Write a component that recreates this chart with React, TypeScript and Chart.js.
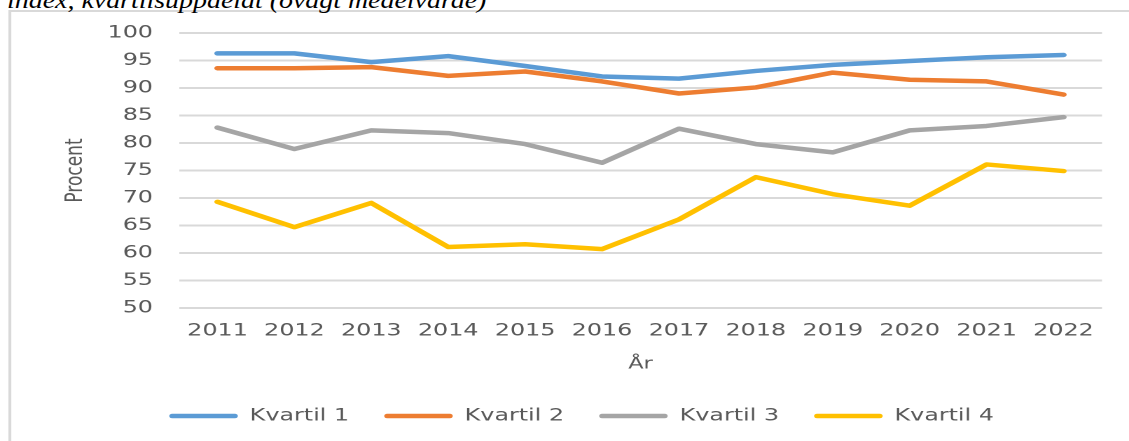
import React, { useEffect, useRef } from "react";
import { Chart, registerables } from "chart.js";

Chart.register(...registerables);

// ---- data ----
const years = ["2011", "2012", "2013", "2014", "2015", "2016", "2017", "2018", "2019", "2020", "2021", "2022"];
const kvartil1 = [96.3, 96.3, 94.7, 95.8, 94.0, 92.1, 91.7, 93.1, 94.2, 94.9, 95.6, 96.0];
const kvartil2 = [93.6, 93.6, 93.8, 92.2, 93.0, 91.2, 89.0, 90.1, 92.8, 91.5, 91.2, 88.8];
const kvartil3 = [82.8, 78.9, 82.3, 81.8, 79.8, 76.4, 82.6, 79.8, 78.3, 82.3, 83.1, 84.7];
const kvartil4 = [69.3, 64.7, 69.1, 61.1, 61.6, 60.7, 66.1, 73.8, 70.7, 68.6, 76.1, 74.9];
const seriesNames = ["Kvartil 1", "Kvartil 2", "Kvartil 3", "Kvartil 4"];
const seriesValues = [kvartil1, kvartil2, kvartil3, kvartil4];
const seriesColors = ["#5B9BD5", "#ED7D31", "#A5A5A5", "#FFC000"];
const yMin = 50;
const yMax = 100;
const yStep = 5;
const captionText = "index, kvartilsuppdelat (övägt medelvärde)";
const yAxisTitle = "Procent";
const xAxisTitle = "År";

// ---- layout (internal units; the whole figure is stretched horizontally) ----
const W = 806;
const H = 441;
const STRETCH = 1129 / W;
const FONT = "'DejaVu Sans', sans-serif";
const TEXT = "#595959";

export default function App() {
  const ref = useRef<HTMLCanvasElement>(null);

  useEffect(() => {
    const canvas = ref.current;
    if (!canvas) return;
    const n = seriesNames.length;
    const datasets = seriesValues.map((values, i) => ({
      label: seriesNames[i],
      data: values,
      borderColor: seriesColors[i],
      backgroundColor: seriesColors[i],
      borderWidth: 4.5,
      pointRadius: 0,
      pointHoverRadius: 0,
      borderCapStyle: "round" as const,
      borderJoinStyle: "round" as const,
      tension: 0,
      fill: false,
      order: n - i,
    }));

    const chart = new Chart(canvas, {
      type: "line",
      data: { labels: years, datasets },
      options: {
        animation: false,
        responsive: false,
        devicePixelRatio: 2,
        events: [],
        layout: { padding: { left: 43.7, right: 19.3, top: 33, bottom: 6.5 } },
        plugins: {
          tooltip: { enabled: false },
          title: { display: false },
          legend: {
            position: "bottom",
            align: "center",
            labels: {
              boxWidth: 49,
              boxHeight: 4.5,
              padding: 25,
              color: TEXT,
              font: { family: FONT, size: 17 },
              useBorderRadius: true,
              borderRadius: 2.25,
              sort: (a: any, b: any) => a.datasetIndex - b.datasetIndex,
              generateLabels: (c: any) =>
                (Chart.defaults.plugins.legend.labels as any)
                  .generateLabels(c)
                  .map((l: any) => ({ ...l, fillStyle: l.strokeStyle, lineWidth: 0 })),
            },
          },
        },
        scales: {
          x: {
            offset: true,
            grid: { display: false, drawTicks: false, offset: true },
            border: { display: false },
            ticks: {
              color: TEXT,
              font: { family: FONT, size: 17 },
              padding: 13,
              maxRotation: 0,
              autoSkip: false,
            },
            title: {
              display: true,
              text: xAxisTitle,
              color: TEXT,
              font: { family: FONT, size: 16 },
              padding: { top: 0, bottom: 8.5 },
            },
            afterFit: (scale: any) => {
              scale.height = 74.5;
            },
          },
          y: {
            min: yMin,
            max: yMax,
            grid: { color: "#d9d9d9", lineWidth: 2, drawTicks: false },
            border: { display: false },
            ticks: {
              stepSize: yStep,
              color: TEXT,
              font: { family: FONT, size: 17 },
              padding: 18.6,
            },
            title: {
              display: true,
              text: yAxisTitle,
              color: TEXT,
              font: { family: FONT, size: 17 },
              padding: { top: 0, bottom: 0 },
            },
            afterFit: (scale: any) => {
              scale.width = 84.1;
            },
          },
        },
      },
    } as any);

    return () => chart.destroy();
  }, []);

  return (
    <div
      style={{
        position: "fixed",
        left: 0,
        top: 0,
        width: W,
        height: H,
        overflow: "hidden",
        background: "#ffffff",
        transform: `scaleX(${STRETCH})`,
        transformOrigin: "0 0",
      }}
    >
      <div
        style={{
          position: "absolute",
          left: 6,
          top: 10,
          width: 900,
          height: 500,
          border: "2px solid #d9d9d9",
          boxSizing: "border-box",
          background: "#ffffff",
        }}
      />
      <div
        style={{
          position: "absolute",
          left: 5,
          top: -12,
          fontFamily: "'Liberation Serif', serif",
          fontStyle: "italic",
          fontSize: 24,
          lineHeight: "24px",
          whiteSpace: "nowrap",
          color: "#000000",
          transform: "scaleX(0.83)",
          transformOrigin: "0 0",
        }}
      >
        {captionText}
      </div>
      <canvas ref={ref} width={W} height={H} style={{ position: "absolute", left: 0, top: 0 }} />
    </div>
  );
}
